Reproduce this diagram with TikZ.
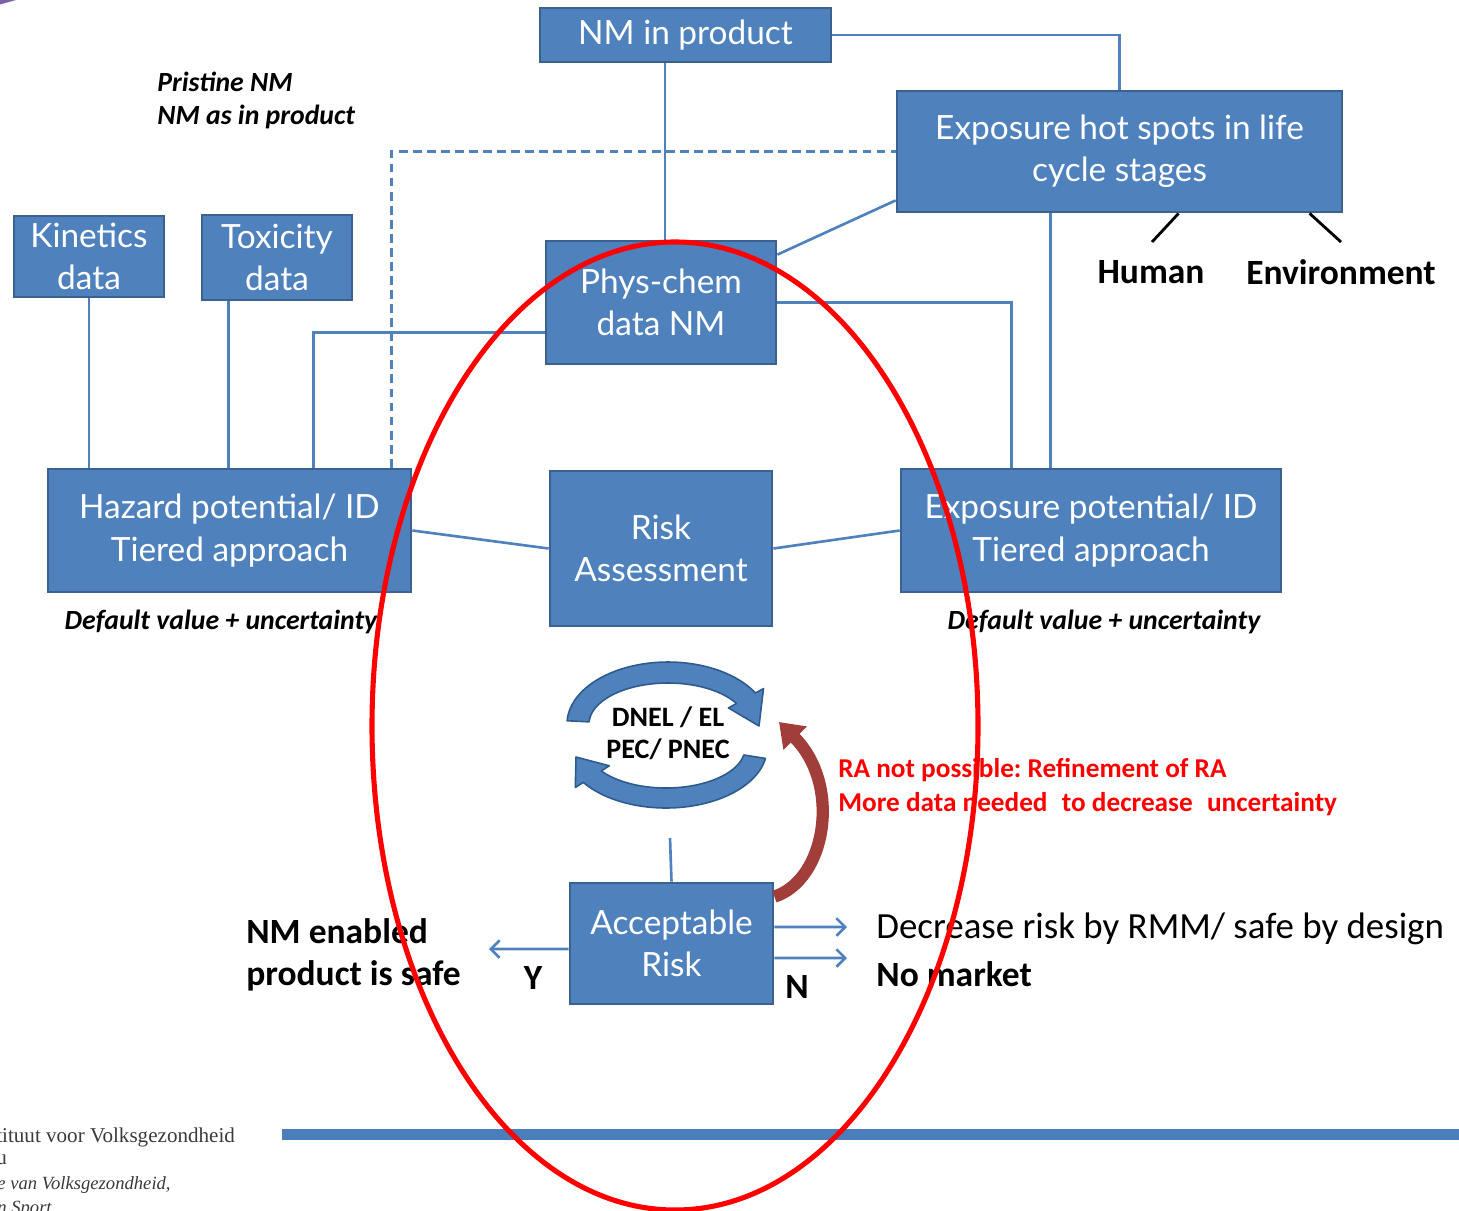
\documentclass[tikz,border=0pt]{standalone}
\usepackage{fontspec}
\setmainfont{Carlito}
\newfontfamily\boxfont{Lato}
\newfontfamily\logofont{Liberation Serif}
\usetikzlibrary{arrows.meta,calc}
\definecolor{boxfill}{HTML}{4F81BD}
\definecolor{boxedge}{HTML}{3A6190}
\definecolor{linkblue}{HTML}{4F81BD}
\definecolor{cycleedge}{HTML}{2F5A8C}
\definecolor{loopred}{HTML}{A23E3A}
\definecolor{barblue}{HTML}{4A7EBB}
\definecolor{logogray}{HTML}{3A3A3A}
\definecolor{cornerpurple}{HTML}{7D5FAA}
\definecolor{ringred}{HTML}{FF0000}
\frenchspacing

\begin{document}
\begin{tikzpicture}[x=0.02cm,y=-0.02cm,
  box/.style={draw=boxedge, fill=boxfill, line width=1.6pt, inner sep=0pt,
    align=center, text=white, font=\boxfont\fontsize{19}{24}\selectfont},
  link/.style={draw=linkblue, line width=1.5pt},
  dashlink/.style={link, dash pattern=on 5pt off 3pt},
  outarrow/.style={link, -{Straight Barb[length=5pt,width=10pt,line width=1.5pt]}},
  lbl/.style={inner sep=0pt, align=left},
  blacklbl/.style={lbl, font=\bfseries\fontsize{20.2}{23.8}\selectfont},
  italbl/.style={lbl, font=\bfseries\itshape\fontsize{15.8}{18.7}\selectfont},
  cyclearrow/.style={fill=boxfill, draw=cycleedge, line width=0.9pt, line join=round},
  logo/.style={inner sep=0pt, anchor=west, text=logogray, font=\logofont\fontsize{12}{14}\selectfont},
  logoit/.style={logo, font=\logofont\itshape\fontsize{10.6}{14}\selectfont}
]
\useasboundingbox (0,0) rectangle (1459,1210);
\clip (0,0) rectangle (1459,1210);

% corner ornament
\fill[cornerpurple] (0,0) -- (16,0) .. controls (8,1.5) .. (0,4.5) -- cycle;

% boxes
\node[box, minimum width=5.82cm, minimum height=1.08cm] (prod) at (685.5,35) {NM in product};
\node[box, minimum width=8.9cm, minimum height=2.42cm] (hot) at (1119.5,151.5) {Exposure hot spots in life\\cycle stages};
\node[box, minimum width=3.0cm, minimum height=1.62cm] (kin) at (89,256.5) {Kinetics\\data};
\node[box, minimum width=3.0cm, minimum height=1.70cm] (tox) at (277,257.5) {Toxicity\\data};
\node[box, minimum width=4.6cm, minimum height=2.46cm] (phys) at (661,302.5) {Phys-chem\\data NM};
\node[box, minimum width=7.26cm, minimum height=2.46cm] (haz) at (229.5,530.5) {Hazard potential/ ID\\Tiered approach};
\node[box, minimum width=4.44cm, minimum height=3.10cm] (risk) at (661,548.5) {Risk\\Assessment};
\node[box, minimum width=7.6cm, minimum height=2.46cm] (expo) at (1091,530.5) {Exposure potential/ ID\\Tiered approach};
\node[box, minimum width=4.06cm, minimum height=2.42cm] (acc) at (671.5,943.5) {Acceptable\\Risk};

% connectors between the boxes
\draw[link] (prod.east) -| (hot.north);
\draw[link] ([xshift=0.08cm]phys.north |- prod.south) -- ([xshift=0.08cm]phys.north);
\draw[dashlink] ([xshift=6.9cm]haz.north west) |- (hot.west);
\draw[link] ([yshift=-0.3cm]phys.north east) -- ([yshift=0.26cm]hot.south west);
\draw[link] (phys.east) -| ([xshift=2.24cm]expo.north west);
\draw[link] ([xshift=3.1cm]hot.south west) -- ([xshift=3.1cm]hot.south west |- expo.north);
\draw[link] (kin.south) -- (kin.south |- haz.north);
\draw[link] ([xshift=0.56cm]tox.south west) -- ([xshift=0.56cm]tox.south west |- haz.north);
\draw[link] ([yshift=-0.6cm]phys.west) -| ([xshift=5.34cm]haz.north west);
\draw[link] (haz.east) -- (risk.west);
\draw[link] (risk.east) -- (expo.west);

% human / environment branches
\node[blacklbl] (human) at (1151,272) {Human};
\node[blacklbl] (env) at (1341,272) {Environment};
\coordinate (humtop) at (1152,242);
\coordinate (envtop) at (1341,242);
\draw[black, line width=1.6pt] ([xshift=5.66cm]hot.south west) -- (humtop);
\draw[black, line width=1.6pt] ([xshift=8.28cm]hot.south west) -- (envtop);

% annotations
\node[italbl, anchor=west] (pristine) at (157,100.5) {Pristine NM\\NM as in product};
\node[italbl] (hazdef) at (221,622) {Default value + uncertainty};
\node[italbl] (expodef) at (1104,622) {Default value + uncertainty};

% cycle of risk ratios
\filldraw[cyclearrow]
  plot[domain=183:330, samples=50] ({668+101*cos(\x)},{724+62*sin(\x)})
  -- (763.5,688.6) -- (759,726) -- (728.4,707.9)
  -- plot[domain=330:183, samples=50] ({668+79*cos(\x)},{724+41*sin(\x)})
  -- cycle;
\filldraw[cyclearrow]
  plot[domain=10:145, samples=50] ({666+101*cos(\x)},{748+60*sin(\x)})
  -- (575.3,787.5) -- (576,757) -- (609.3,765.8)
  -- plot[domain=145:10, samples=50] ({666+79*cos(\x)},{748+40*sin(\x)})
  -- cycle;
\node[lbl, align=center, font=\bfseries\fontsize{16}{18.1}\selectfont] (ratio) at (668,733) {DNEL / EL\\PEC/ PNEC};
\coordinate (cyc) at (670,838);
\draw[link] (cyc) -- (acc.north);

% refinement loop
\coordinate (loopend) at (779,722);
\draw[loopred, line width=7pt, -{Triangle[length=13pt,width=18pt]}]
  ([yshift=-0.3cm]acc.north east) .. controls (826,880) and (842,785) .. (loopend);
\node[lbl, text=ringred, font=\bfseries\fontsize{15.5}{19.3}\selectfont, anchor=west] (refine) at (838,787)
  {RA not possible: Refinement of RA\\More data needed\hspace{.3em} to decrease\hspace{.3em} uncertainty};

% outcomes
\coordinate (yend) at (489,949);
\coordinate (nend1) at (847,927);
\coordinate (nend2) at (847,958);
\draw[outarrow] ([yshift=-0.11cm]acc.west) -- (yend);
\draw[outarrow] ([yshift=0.33cm]acc.east) -- (nend1);
\draw[outarrow] ([yshift=-0.29cm]acc.east) -- (nend2);
\node[blacklbl, anchor=west] (safe) at (246,955) {NM enabled\\product is safe};
\node[blacklbl] (yes) at (533,978) {Y};
\node[blacklbl] (no) at (797,987) {N};
\node[lbl, anchor=west, font=\fontsize{21}{24}\selectfont] (rmm) at (876,929) {Decrease risk by RMM/ safe by design};
\node[blacklbl, anchor=west] (nomarket) at (876,974) {No market};

% footer
\fill[barblue] (282,1129) rectangle (1459,1140);
\node[logo] (l1) at (-4,1137) {tituut voor Volksgezondheid};
\node[logo] (l2) at (-4,1160) {u};
\node[logoit] (l3) at (-3,1185) {e van Volksgezondheid,};
\node[logoit] (l4) at (-3,1209) {n Sport};

% focus ring
\draw[ringred, line width=2.9pt] (675,726) ellipse [x radius=303, y radius=484];
\end{tikzpicture}
\end{document}
